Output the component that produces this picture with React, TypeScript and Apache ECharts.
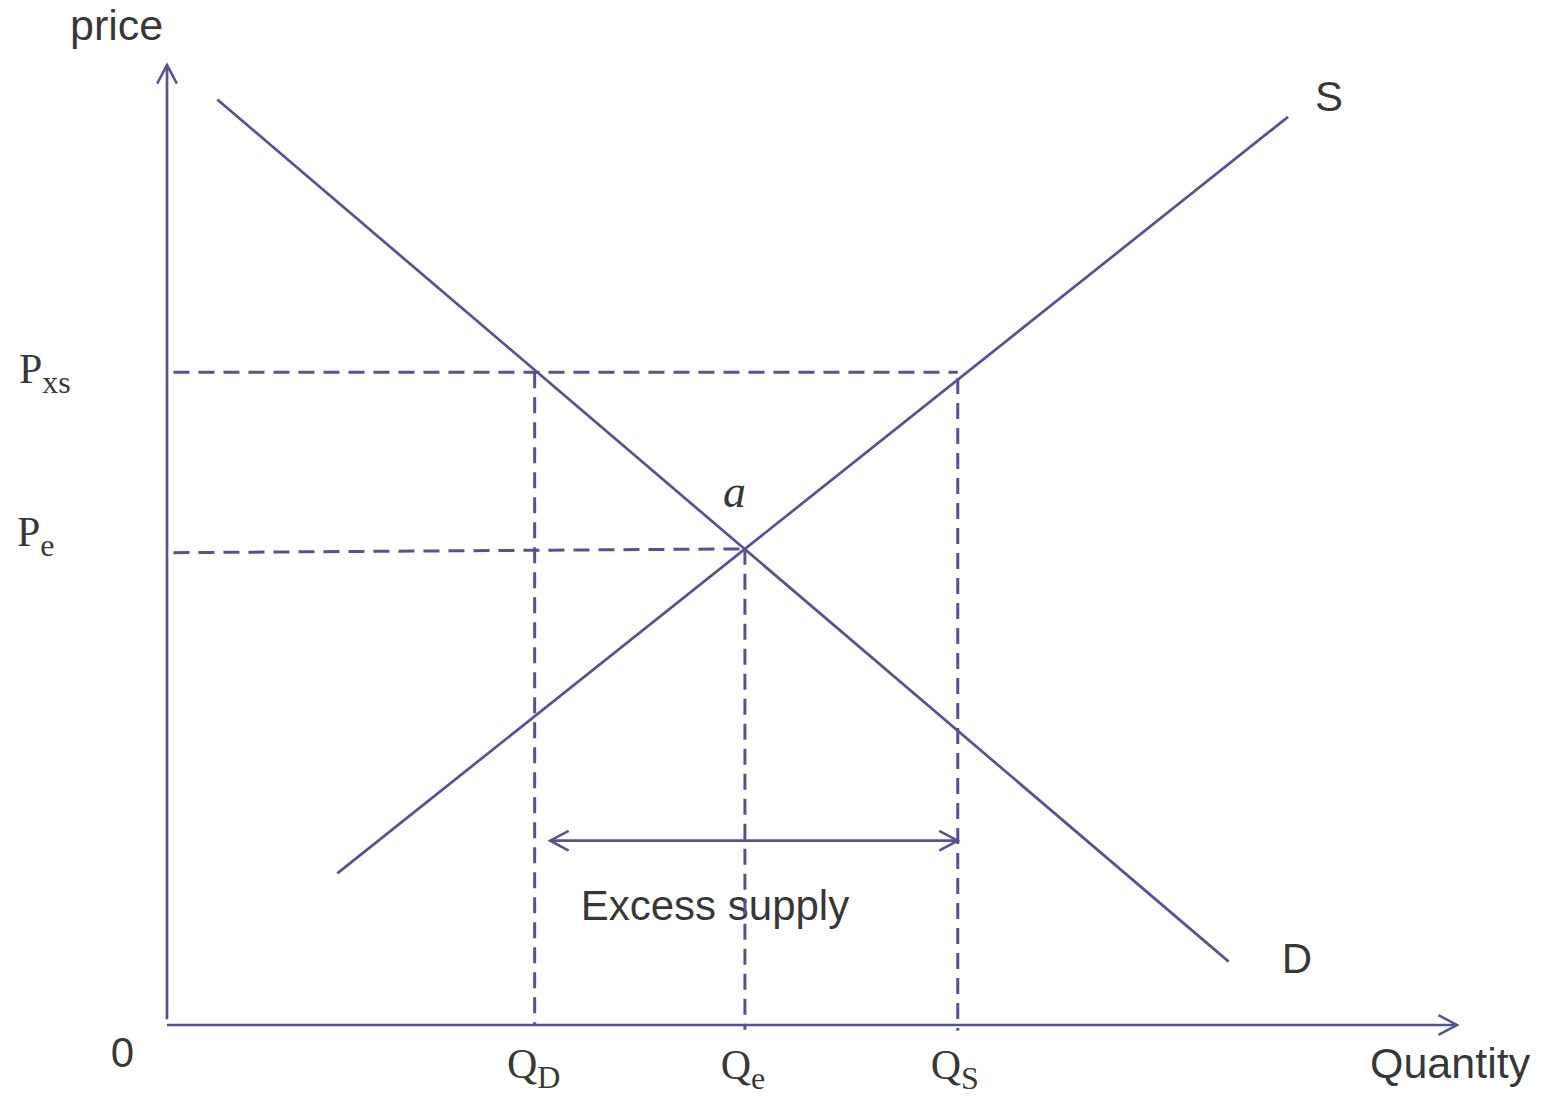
import React, { useEffect, useRef } from 'react';
import * as echarts from 'echarts';

const LINE = '#525492';
const SANS = '"Liberation Sans", Arial, sans-serif';
const SERIF = '"Liberation Serif", "Times New Roman", serif';

// Curves (quantity, price) in chart units 0..100
const demandCurve = [[3.9, 96.4], [82.3, 6.6]];
const supplyCurve = [[13.2, 15.8], [86.9, 94.6]];
const equilibrium = [44.8, 49.6];

// Tick labels
const priceLabels = ['{m|P}{s|xs}', '{m|P}{s|e}'];
const priceValues = [68.0, 49.4];
const quantityLabels = ['{m|Q}{s|D}', '{m|Q}{s|e}', '{m|Q}{s|S}'];
const quantityValues = [28.5, 44.8, 61.3];

// Dashed guides
const pxsGuide = [[0.5, 68.0], [61.3, 68.0]];
const peGuide = [[0.5, 49.2], [44.8, 49.6]];
const qdGuide = [[28.5, 68.0], [28.5, 0]];
const qeGuide = [[44.8, 49.6], [44.8, -0.5]];
const qsGuide = [[61.3, 67.4], [61.3, -0.6]];

// Excess supply arrow
const excessSupply = [[29.7, 19.2], [61.3, 19.2]];

// Axes
const xAxisLine = [[0, 0], [100, 0]];
const yAxisLine = [[0, 0.6], [0, 100]];

// Arrow heads: x, y, direction (deg, screen)
const arrowHeads = [
  [0, 100, -90],
  [100, 0, 0],
  [29.7, 19.2, 180],
  [61.3, 19.2, 0],
];

const lineSeries = (data: number[][], dashed: boolean) => ({
  type: 'line',
  data,
  symbol: 'none',
  clip: false,
  silent: true,
  lineStyle: { color: LINE, width: dashed ? 3 : 2.7, type: dashed ? [16, 9] : 'solid' },
});

const serifRich = {
  m: { fontFamily: SERIF, fontSize: 42, color: '#000' },
  s: { fontFamily: SERIF, fontSize: 32, color: '#000', padding: [26, 0, 0, 0] },
};

const textItem = (
  value: number[],
  formatter: string,
  offset: number[],
  align: string,
  font: string,
  size: number,
  extra: any = {}
) => ({
  value,
  label: {
    show: true,
    position: 'inside',
    formatter,
    offset,
    align,
    verticalAlign: 'middle',
    fontFamily: font,
    fontSize: size,
    color: '#000',
    rich: serifRich,
    ...extra,
  },
});

export default function App() {
  const ref = useRef<HTMLDivElement>(null);
  useEffect(() => {
    if (!ref.current) return;
    const chart = echarts.init(ref.current, undefined, { renderer: 'svg' });

    const texts: any[] = [
      textItem([0, 100], 'price', [-97, -40.5], 'left', SANS, 43),
      textItem(supplyCurve[1], 'S', [27, -20.5], 'left', SANS, 42),
      textItem(demandCurve[1], 'D', [53, -3.5], 'left', SANS, 42),
      textItem(xAxisLine[1], 'Quantity', [-87, 37.5], 'left', SANS, 43),
      textItem([0, 0], '0', [-44.5, 27.5], 'center', SANS, 42),
      textItem(
        [(excessSupply[0][0] + excessSupply[1][0]) / 2, excessSupply[0][1]],
        'Excess supply',
        [-39, 64.7],
        'center',
        SANS,
        42
      ),
      textItem(equilibrium, 'a', [-10.5, -57], 'center', SERIF, 46, { fontStyle: 'italic' }),
      textItem([0, priceValues[0]], priceLabels[0], [-148, -3], 'left', SERIF, 42),
      textItem([0, priceValues[1]], priceLabels[1], [-150, -19], 'left', SERIF, 42),
      textItem([quantityValues[0], 0], quantityLabels[0], [-1, 39], 'center', SERIF, 42),
      textItem([quantityValues[1], 0], quantityLabels[1], [-2, 40], 'center', SERIF, 42),
      textItem([quantityValues[2], 0], quantityLabels[2], [-3, 40], 'center', SERIF, 42),
    ];

    chart.setOption({
      animation: false,
      backgroundColor: '#fff',
      grid: { left: 167, right: 85, top: 65, bottom: 73 },
      xAxis: { type: 'value', min: 0, max: 100, show: false },
      yAxis: { type: 'value', min: 0, max: 100, show: false },
      series: [
        lineSeries(xAxisLine, false),
        lineSeries(yAxisLine, false),
        lineSeries(demandCurve, false),
        lineSeries(supplyCurve, false),
        lineSeries(pxsGuide, true),
        lineSeries(peGuide, true),
        lineSeries(qdGuide, true),
        lineSeries(qeGuide, true),
        lineSeries(qsGuide, true),
        lineSeries(excessSupply, false),
        {
          type: 'custom',
          data: arrowHeads,
          clip: false,
          silent: true,
          encode: { x: 0, y: 1 },
          renderItem: (_params: any, api: any) => {
            const p = api.coord([api.value(0), api.value(1)]);
            const ang = (api.value(2) * Math.PI) / 180;
            const L = 21;
            const h = (28 * Math.PI) / 180;
            const a = [p[0] - L * Math.cos(ang - h), p[1] - L * Math.sin(ang - h)];
            const b = [p[0] - L * Math.cos(ang + h), p[1] - L * Math.sin(ang + h)];
            return {
              type: 'polyline',
              shape: { points: [a, p, b] },
              style: { stroke: LINE, lineWidth: 2.5, fill: 'none' },
            };
          },
        },
        {
          type: 'scatter',
          data: texts,
          symbolSize: 1,
          clip: false,
          silent: true,
          itemStyle: { color: 'rgba(0,0,0,0)' },
        },
      ],
    });
    return () => chart.dispose();
  }, []);

  return (
    <div
      ref={ref}
      style={{ position: 'fixed', left: 0, top: 0, width: 1542, height: 1098, background: '#fff' }}
    />
  );
}
